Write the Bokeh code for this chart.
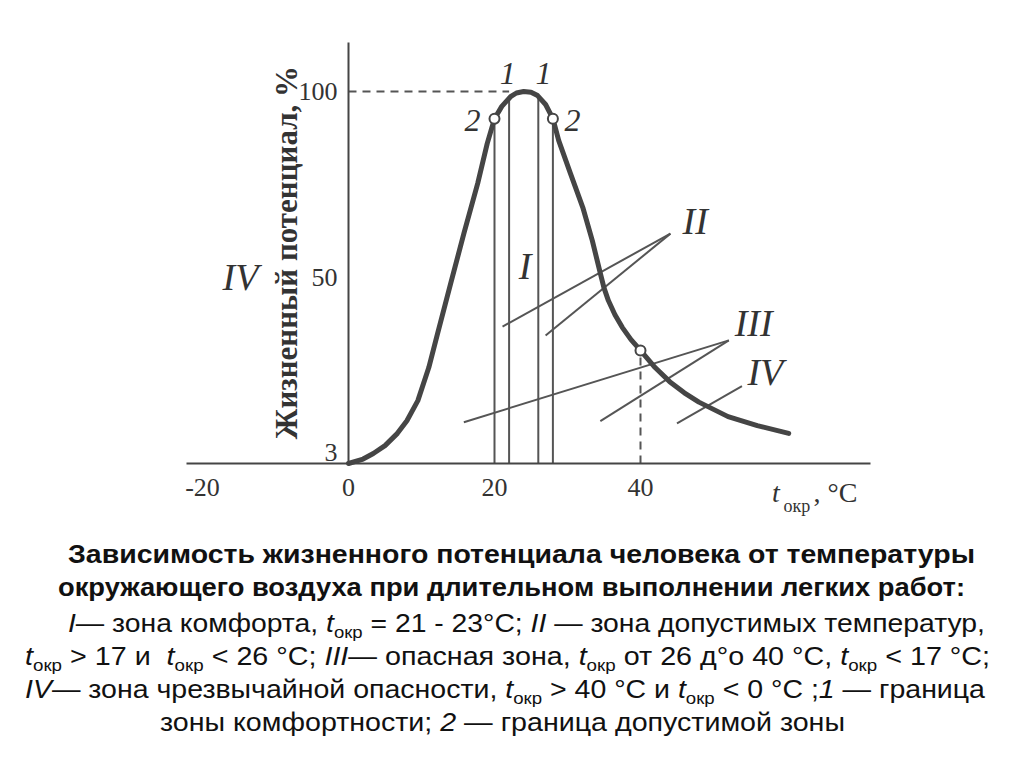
import html
import math
from bokeh.plotting import figure
from bokeh.models import FixedTicker, Div, Range1d
from bokeh.layouts import column
from bokeh.core.properties import value
from bokeh.embed import file_html
from bokeh.resources import INLINE

# ---------------- data ----------------
temp = [0, 2, 3.4, 5, 6.7, 8, 9.5, 11, 12.2, 14, 15.8, 17.7, 19, 20, 21, 22.2,
        23, 24, 25, 25.9, 27, 28, 28.8, 30.4, 32.1, 33.4, 34.5, 35.0, 35.6,
        36.5, 37.5, 38.7, 40, 42, 44, 46, 48, 52, 56, 60.3]
potential = [0, 1.2, 2.7, 4.8, 8.1, 11.5, 16.9, 25.8, 34.9, 48.4, 61.8, 75.3,
             86, 92.7, 96, 98.6, 99.6, 100, 99.8, 98.9, 96.5, 92.7, 86.8, 78,
             68.8, 59.9, 51.1, 47.2, 43.8, 40.0, 36.6, 33.3, 30.4, 25.8, 22.0,
             19.0, 16.5, 12.6, 10.2, 8.1]

comfort_t = [22, 26]          # boundary 1
comfort_v = [98.6, 98.9]
permit_t = [20, 28]           # boundary 2
permit_v = [92.7, 92.7]
danger_t = [40]
danger_v = [30.4]

max_t = [0, 22]               # dashed line at 100 %
max_v = [100, 100]

x_ticks = [-20, 0, 20, 40]
y_ticks = [3, 50, 100]
y_label = "Жизненный потенциал, %"

zone_names = ["I", "II", "III", "IV", "IV"]
zone_x = [24.2, 47.5, 55.5, 57.1, -14.8]
zone_y = [53.2, 65.3, 37.9, 24.5, 50.0]

bound_names = ["1", "1", "2", "2"]
bound_x = [21.8, 26.7, 17.0, 30.7]
bound_y = [104.8, 104.8, 92.2, 92.2]

# leader lines: apex -> end
lead_x0 = [44.1, 44.1, 52.1, 52.1, 53.9]
lead_y0 = [61.8, 61.8, 33.1, 33.1, 20.8]
lead_x1 = [21.1, 27.0, 15.8, 34.5, 45.0]
lead_y1 = [36.8, 34.4, 11.1, 11.4, 10.8]

x_label_main = "t"
x_label_sub = "окр"
x_label_tail = ", °C"

caption_lines = [
    [("Зависимость жизненного потенциала человека от температуры", "n")],
    [("окружающего воздуха при длительном выполнении легких работ:", "n")],
    [("I", "i"), ("— зона комфорта, ", "n"), ("t", "i"), ("окр", "s"),
     (" = 21 - 23°С; ", "n"), ("II", "i"), (" — зона допустимых температур,", "n")],
    [("t", "i"), ("окр", "s"), (" > 17 и  ", "n"), ("t", "i"), ("окр", "s"),
     (" < 26 °С; ", "n"), ("III", "i"), ("— опасная зона, ", "n"), ("t", "i"),
     ("окр", "s"), (" от 26 д°о 40 °С, ", "n"), ("t", "i"), ("окр", "s"),
     (" < 17 °С;", "n")],
    [("IV", "i"), ("— зона чрезвычайной опасности, ", "n"), ("t", "i"),
     ("окр", "s"), (" > 40 °С и ", "n"), ("t", "i"), ("окр", "s"),
     (" < 0 °С ;", "n"), ("1", "i"), (" — граница", "n")],
    [("зоны комфортности; ", "n"), ("2", "i"), (" — граница допустимой зоны", "n")],
]
caption_bold = [True, True, False, False, False, False]

# ---------------- layout constants ----------------
W, H = 1024, 530
INK = "#333333"
LINE = "#454545"
SERIF = "Liberation Serif"

p = figure(width=W, height=H, x_range=Range1d(-47.671, 92.603),
           y_range=Range1d(-18.011, 124.462), output_backend="svg",
           toolbar_location=None, min_border=0, outline_line_color=None,
           background_fill_color="white", border_fill_color="white")
p.grid.visible = False

for ax in (p.xaxis, p.yaxis):
    ax.fixed_location = 0
    ax.axis_line_width = 2
    ax.axis_line_color = LINE
    ax.major_tick_line_color = None
    ax.minor_tick_line_color = None
    ax.major_label_text_font = SERIF
    ax.major_label_text_font_size = "26px"
    ax.major_label_text_color = INK

p.xaxis.bounds = (-22.2, 71.5)
p.xaxis.ticker = FixedTicker(ticks=x_ticks)
p.xaxis.major_label_overrides = {-20: "-20"}
p.xaxis.major_label_standoff = 10

p.yaxis.bounds = (0, 113.2)
p.yaxis.ticker = FixedTicker(ticks=y_ticks)
p.yaxis.major_label_standoff = 5

# y axis title (rotated)
p.text(x=[-8.5], y=[56.7], text=[y_label], angle=math.pi / 2,
       text_font=value(SERIF), text_font_style="bold", text_font_size="31px",
       text_color=INK, text_align="center", text_baseline="middle")

# dashed reference lines
p.line(max_t, max_v, line_width=2, line_color="#555555", line_dash="8 6")
p.line([danger_t[0], danger_t[0]], [0, danger_v[0]], line_width=2,
       line_color="#555555", line_dash="8 6")

# vertical boundary lines
p.segment(x0=comfort_t, y0=[0] * len(comfort_t), x1=comfort_t, y1=comfort_v,
          line_width=2, line_color="#555555")
p.segment(x0=permit_t, y0=[0] * len(permit_t), x1=permit_t, y1=permit_v,
          line_width=2, line_color="#555555")

# leader lines
p.segment(x0=lead_x0, y0=lead_y0, x1=lead_x1, y1=lead_y1,
          line_width=2, line_color="#555555")

# curve
p.line(temp, potential, line_width=5, line_color=LINE,
       line_join="round", line_cap="round")

# boundary points
p.scatter(permit_t + danger_t, permit_v + danger_v, size=10,
          fill_color="white", line_color=LINE, line_width=2)

# labels
p.text(x=zone_x, y=zone_y, text=zone_names, text_font=value(SERIF),
       text_font_style="italic", text_font_size="38px", text_color=INK,
       text_align="center", text_baseline="middle")
p.text(x=bound_x, y=bound_y, text=bound_names, text_font=value(SERIF),
       text_font_style="italic", text_font_size="32px", text_color=INK,
       text_align="center", text_baseline="middle")

p.text(x=[58.0], y=[-7.8], text=[x_label_main], text_font=value(SERIF),
       text_font_style="italic", text_font_size="28px", text_color=INK,
       text_align="left", text_baseline="middle")
p.text(x=[59.6], y=[-11.3], text=[x_label_sub], text_font=value(SERIF),
       text_font_size="18px", text_color=INK,
       text_align="left", text_baseline="middle")
p.text(x=[63.7], y=[-7.8], text=[x_label_tail], text_font=value(SERIF),
       text_font_size="28px", text_color=INK,
       text_align="left", text_baseline="middle")

# ---------------- caption ----------------
cap_x = [68, 58, 68, 25, 25, 160]
cap_w = [907, 907, 917, 965, 960, 685]
cap_y = [33, 66, 102, 135, 168, 201]

def build_line(segs, bold, x, y, w):
    parts = []
    shifted = False
    for txt, kind in segs:
        attrs = []
        if kind == "i":
            attrs.append('font-style="italic"')
        if kind == "s":
            attrs.append('font-size="17"')
            attrs.append('dy="6"')
            shifted = True
        elif shifted:
            attrs.append('dy="-6"')
            shifted = False
        parts.append('<tspan %s>%s</tspan>' % (" ".join(attrs), html.escape(txt)))
    weight = "bold" if bold else "normal"
    return ('<text x="%d" y="%d" textLength="%d" lengthAdjust="spacingAndGlyphs" '
            'font-family="Liberation Sans, Arial, sans-serif" font-size="26" '
            'font-weight="%s" fill="#111111" xml:space="preserve">%s</text>'
            % (x, y, w, weight, "".join(parts)))

svg_lines = [build_line(s, b, x, y, w) for s, b, x, y, w in
             zip(caption_lines, caption_bold, cap_x, cap_y, cap_w)]
cap_h = 230
svg = ('<svg xmlns="http://www.w3.org/2000/svg" width="%d" height="%d" '
       'style="display:block">%s</svg>' % (W, cap_h, "".join(svg_lines)))
div = Div(text=svg, width=W, height=cap_h, margin=0)

layout = column(p, div, spacing=0)
open("out.html", "w").write(file_html(layout, INLINE))
